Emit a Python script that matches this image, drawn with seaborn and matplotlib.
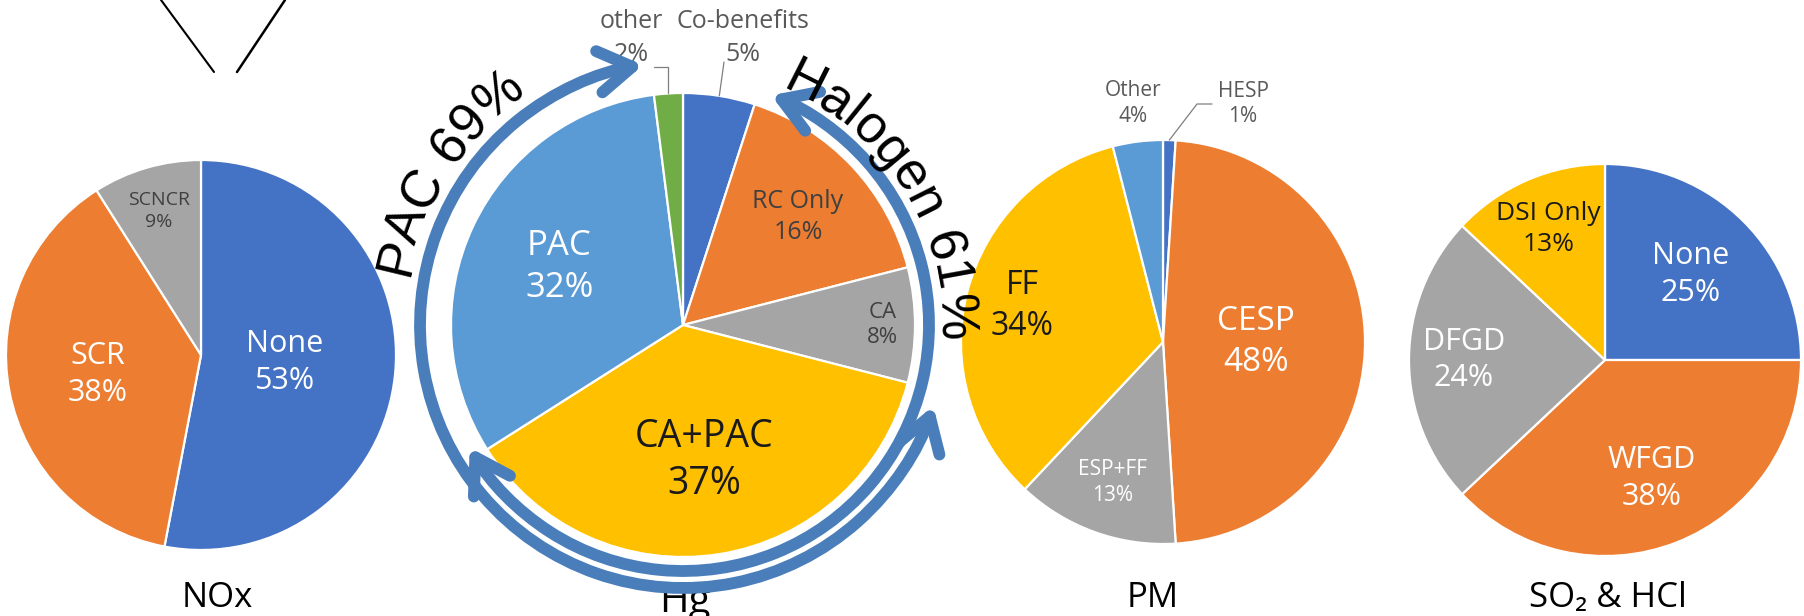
import numpy as np
import matplotlib
matplotlib.use("Agg")
import matplotlib.pyplot as plt
import seaborn as sns
from matplotlib.path import Path
from matplotlib.patches import FancyArrowPatch
from matplotlib.transforms import Affine2D
from matplotlib.font_manager import FontProperties
from matplotlib.textpath import text_to_path

# data (percent of units)
nox_labels = ["None", "SCR", "SCNCR"]
nox_values = [53, 38, 9]

hg_labels = ["Co-benefits", "RC Only", "CA", "CA+PAC", "PAC", "other"]
hg_values = [5, 16, 8, 37, 32, 2]

pm_labels = ["HESP", "CESP", "ESP+FF", "FF", "Other"]
pm_values = [1, 48, 13, 34, 4]

so2_labels = ["None", "WFGD", "DFGD", "DSI Only"]
so2_values = [25, 38, 24, 13]

titles = ["NOx", "Hg", "PM", "SO₂ & HCl"]

# groupings drawn as arrows round the Hg pie
pac_group = ["CA+PAC", "PAC"]
halogen_group = ["RC Only", "CA", "CA+PAC"]

# office palette
BLUE, ORANGE, GRAY, GOLD, LBLUE, GREEN = sns.color_palette(
    ["#4472C4", "#ED7D31", "#A5A5A5", "#FFC000", "#5B9BD5", "#70AD47"])
RING = "#4A7EBB"
WHITE, DARK, BLACK, LABEL = "white", "#404040", "#1a1a1a", "#595959"

sns.set_theme(style="white")
plt.rcParams["font.family"] = ["Open Sans", "DejaVu Sans"]

W, H = 1804, 616
fig = plt.figure(figsize=(W / 100, H / 100), dpi=100)
ax = fig.add_axes([0, 0, 1, 1])


def Y(y):
    # slide measured from the top, axes from the bottom
    return H - y


def draw_pie(values, colors, cx, cy, r):
    wedges, _ = ax.pie(values, colors=colors, startangle=90, counterclock=False,
                       center=(cx, Y(cy)), radius=r, frame=True,
                       wedgeprops=dict(edgecolor="white", linewidth=1.6))
    return wedges


def wedge_point(w, dist):
    a = np.deg2rad((w.theta1 + w.theta2) / 2)
    return w.center[0] + dist * w.r * np.cos(a), w.center[1] + dist * w.r * np.sin(a)


def label_pie(wedges, labels, values, dists, colors, sizes):
    for w, lab, v, d, c, s in zip(wedges, labels, values, dists, colors, sizes):
        if d is None:
            continue
        x, y = wedge_point(w, d)
        ax.text(x, y, f"{lab}\n{v}%", ha="center", va="center", color=c,
                fontsize=s, linespacing=1.3, zorder=4)


def arc_text(text, center, r_base, mid_deg, size):
    prop = FontProperties(family="Liberation Sans", size=size)

    def width(s):
        return text_to_path.get_text_width_height_descent(s, prop, ismath=False)[0] * 100 / 72

    total = width(text)
    for i, ch in enumerate(text):
        if ch == " ":
            continue
        s = width(text[: i + 1]) - width(ch) / 2 - total / 2
        ang = np.deg2rad(mid_deg) - s / r_base
        ax.text(center[0] + r_base * np.cos(ang), center[1] + r_base * np.sin(ang), ch,
                fontproperties=prop, color="black", rotation=np.rad2deg(ang) - 90,
                rotation_mode="anchor", ha="center", va="baseline", zorder=7)


def ring_arrow(wedges, names, labels, center, r, pad_start, pad_end):
    ws = [w for w, n in zip(wedges, labels) if n in names]
    a1 = min(w.theta1 for w in ws) + pad_start
    a2 = max(w.theta2 for w in ws) + pad_end
    p = Path.arc(a1, a2).transformed(Affine2D().scale(r).translate(*center))
    ax.add_patch(FancyArrowPatch(path=p, arrowstyle="<->,head_length=24,head_width=15",
                                 mutation_scale=1, lw=8.5, color=RING,
                                 capstyle="round", joinstyle="round", zorder=5))


# ---- NOx ----
nox_w = draw_pie(nox_values, [BLUE, ORANGE, GRAY], 201, 355, 195)
label_pie(nox_w, nox_labels, nox_values, [0.43, 0.54, 0.77],
          [WHITE, WHITE, DARK], [22, 22, 14])

# ---- Hg ----
hg_c, hg_r = (683, 325), 232
hg_w = draw_pie(hg_values, [BLUE, ORANGE, GRAY, GOLD, LBLUE, GREEN], hg_c[0], hg_c[1], hg_r)
label_pie(hg_w, hg_labels, hg_values, [None, 0.68, 0.86, 0.59, 0.59, None],
          [None, DARK, DARK, BLACK, WHITE, None], [None, 18, 16, 27, 25, None])

# outside labels with leader lines
ax.text(631, Y(38), f"{hg_labels[5]}\n{hg_values[5]}%", ha="center", va="center",
        color=LABEL, fontsize=18, linespacing=1.45)
ax.text(743, Y(38), f"{hg_labels[0]}\n{hg_values[0]}%", ha="center", va="center",
        color=LABEL, fontsize=18, linespacing=1.45)
ex, ey = wedge_point(hg_w[5], 1.0)
ax.plot([654, ex, ex], [Y(67), Y(67), ey], color="#7f7f7f", lw=0.9, zorder=3)
ex, ey = wedge_point(hg_w[0], 1.0)
ax.plot([724, ex], [Y(62), ey], color="#7f7f7f", lw=0.9, zorder=3)

hg_cd = (hg_c[0], Y(hg_c[1]))
ring_arrow(hg_w, pac_group, hg_labels, hg_cd, 263, 1.5, -3.5)
ring_arrow(hg_w, halogen_group, hg_labels, hg_cd, 246, -2.5, -3.0)

pac_total = sum(v for n, v in zip(hg_labels, hg_values) if n in pac_group)
hal_total = sum(v for n, v in zip(hg_labels, hg_values) if n in halogen_group)
arc_text(f"PAC {pac_total}%", hg_cd, 279, 147, 38)
arc_text(f"Halogen {hal_total}%", hg_cd, 256, 32, 38)

# ---- PM ----
pm_w = draw_pie(pm_values, [BLUE, ORANGE, GRAY, GOLD, LBLUE], 1163, 342, 202)
label_pie(pm_w, pm_labels, pm_values, [None, 0.46, 0.74, 0.72, 1.19],
          [None, WHITE, WHITE, BLACK, LABEL], [None, 24, 15, 23, 15])
ax.text(1243, Y(104), f"{pm_labels[0]}\n{pm_values[0]}%", ha="center", va="center",
        color=LABEL, fontsize=15, linespacing=1.3)
ex, ey = wedge_point(pm_w[0], 1.0)
ax.plot([1212, 1197, ex], [Y(104), Y(104), ey], color="#7f7f7f", lw=0.9, zorder=3)

# ---- SO2 & HCl ----
so2_w = draw_pie(so2_values, [BLUE, ORANGE, GRAY, GOLD], 1605, 360, 196)
label_pie(so2_w, so2_labels, so2_values, [0.62, 0.65, 0.72, 0.73],
          [WHITE, WHITE, WHITE, BLACK], [22, 22, 22, 19])

# titles under each pie
ax.text(217, Y(607), titles[0], ha="center", va="baseline", fontsize=25, color="black")
ax.text(685, Y(612), titles[1], ha="center", va="baseline", fontsize=29, color="black", zorder=2)
ax.text(1153, Y(607), titles[2], ha="center", va="baseline", fontsize=25, color="black")
ax.text(1608, Y(607), titles[3], ha="center", va="baseline", fontsize=25, color="black")

# callout lines at the top-left edge of the slide crop
ax.plot([161, 214], [Y(0), Y(72)], color="black", lw=1.5)
ax.plot([285, 237], [Y(0), Y(72)], color="black", lw=1.8)

ax.set_xlim(0, W)
ax.set_ylim(0, H)
ax.set_aspect("equal")
ax.axis("off")

fig.savefig("out.png", dpi=100, facecolor="white")
plt.close(fig)
